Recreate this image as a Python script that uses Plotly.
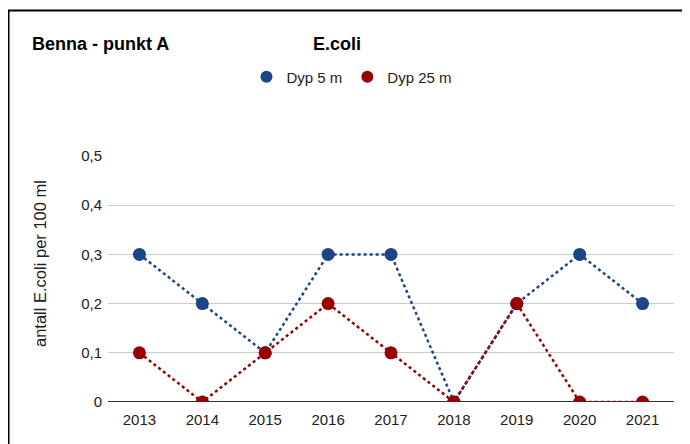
import plotly.graph_objects as go

years = ["2013", "2014", "2015", "2016", "2017", "2018", "2019", "2020", "2021"]
dyp5 = [0.3, 0.2, 0.1, 0.3, 0.3, 0.0, 0.2, 0.3, 0.2]
dyp25 = [0.1, 0.0, 0.1, 0.2, 0.1, 0.0, 0.2, 0.0, 0.0]
y_tickvals = [0, 0.1, 0.2, 0.3, 0.4, 0.5]
y_ticktext = ["0", "0,1", "0,2", "0,3", "0,4", "0,5"]

BLUE = "#1c4587"
RED = "#990000"
FONT = "Liberation Sans, Arial, sans-serif"

OFF = 8  # page body margin
W, H = 690 - OFF, 444 - OFF
L, R, T, B = 108 - OFF, 16, 156 - OFF, 42
pw, ph = W - L - R, H - T - B

def px(x):  # screen x -> paper
    return (x - OFF - L) / pw

def py(y):  # screen y -> paper
    return (H - B - (y - OFF)) / ph

fig = go.Figure()
for name, vals, col in [("Dyp 5 m", dyp5, BLUE), ("Dyp 25 m", dyp25, RED)]:
    fig.add_trace(go.Scatter(
        x=years, y=vals, name=name, mode="lines+markers", showlegend=False,
        line=dict(color=col, width=2.5, dash="dot"),
        marker=dict(color=col, size=13),
    ))
for name, col in [("Dyp 5 m", BLUE), ("Dyp 25 m", RED)]:
    fig.add_trace(go.Scatter(
        x=[None], y=[None], name=name, mode="markers",
        marker=dict(color=col, size=14),
    ))

fig.update_layout(
    width=W, height=H,
    margin=dict(l=L, r=R, t=T, b=B, pad=0),
    paper_bgcolor="white", plot_bgcolor="white",
    font=dict(family=FONT, size=15, color="#222222"),
    showlegend=True,
    legend=dict(orientation="h", x=px(352), xanchor="center", y=py(77), yanchor="middle",
                font=dict(size=15, color="#222222"), itemsizing="constant",
                tracegroupgap=0),
    xaxis=dict(type="category", range=[-0.5, len(years) - 0.5], showgrid=False,
               showline=False, zeroline=False, ticks="", tickfont=dict(size=15, color="#222222"),
               ticklabelstandoff=7, fixedrange=True),
    yaxis=dict(range=[0, 0.5], tickvals=y_tickvals, ticktext=y_ticktext,
               showgrid=True, gridcolor="#cccccc", gridwidth=1,
               zeroline=False, showline=False, ticks="", ticklen=0,
               ticklabelstandoff=5,
               tickfont=dict(size=15, color="#222222"), fixedrange=True),
    shapes=[
        dict(type="line", xref="paper", yref="y", x0=0, x1=1, y0=0, y1=0,
             line=dict(color="#333333", width=2), layer="below"),
        dict(type="line", xref="paper", yref="paper", x0=px(7), x1=px(700), y0=py(10.5), y1=py(10.5),
             line=dict(color="black", width=2)),
        dict(type="line", xref="paper", yref="paper", x0=px(8.5), x1=px(8.5), y0=py(10), y1=py(460),
             line=dict(color="black", width=2)),
    ],
    annotations=[
        dict(text="<b>Benna - punkt A</b>", xref="paper", yref="paper", x=px(30), y=py(44),
             xanchor="left", yanchor="middle", showarrow=False,
             font=dict(size=18, color="#000000", family=FONT)),
        dict(text="<b>E.coli</b>", xref="paper", yref="paper", x=px(311), y=py(44),
             xanchor="left", yanchor="middle", showarrow=False,
             font=dict(size=18, color="#000000", family=FONT)),
        dict(text="antall E.coli per 100 ml", xref="paper", yref="paper", x=px(40), y=py(264),
             xanchor="center", yanchor="middle", showarrow=False, textangle=-90,
             font=dict(size=16.5, color="#222222", family=FONT)),
    ],
)

fig.write_html("out.html")
